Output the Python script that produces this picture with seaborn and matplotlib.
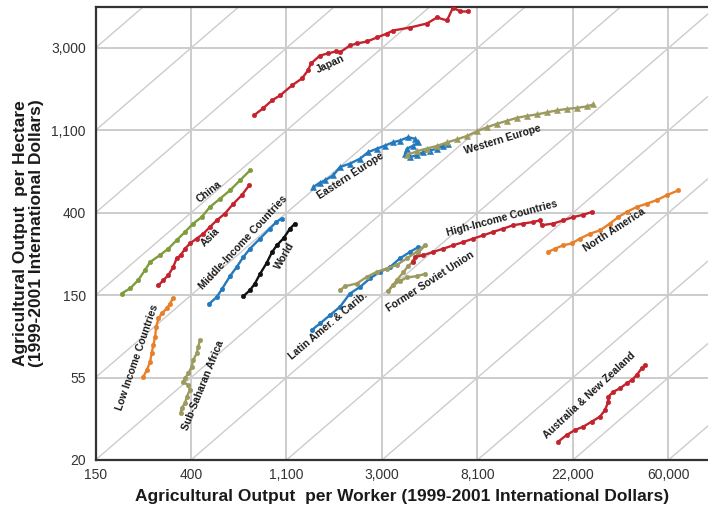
import numpy as np
import pandas as pd
import matplotlib
matplotlib.use("Agg")
import matplotlib.pyplot as plt
import seaborn as sns

# Agricultural output per worker (x) and per hectare (y), 1999-2001 international dollars
japan_x = [780, 857, 942, 1025, 1162, 1290, 1373, 1417, 1558, 1693, 1841, 1920, 2132, 2294, 2548,
           2829, 3140, 3345, 3998, 4774, 5303, 5889, 6272, 6753, 7341]
japan_y = [1316, 1432, 1578, 1676, 1893, 2061, 2271, 2470, 2721, 2791, 2859, 2826, 3075, 3149, 3226,
           3387, 3553, 3684, 3822, 4013, 4317, 4164, 4871, 4643, 4643]

china_x = [195, 213, 232, 249, 263, 291, 318, 347, 379, 413, 451, 492, 547, 607, 674, 748]
china_y = [151.5, 161, 178, 201, 222, 241, 261, 289, 320, 354, 383, 433, 479, 530, 598, 675]

asia_x = [287, 302, 318, 335, 347, 362, 379, 399, 428, 459, 492, 528, 576, 629, 686, 742]
asia_y = [167.5, 178, 189, 209, 232, 241, 261, 278, 295, 313, 340, 368, 400, 451, 499, 563]

middle_x = [489, 528, 558, 607, 651, 698, 748, 831, 921, 987, 1041]
middle_y = [134, 145, 160, 187, 209, 236, 261, 295, 333, 361, 376]

world_x = [698, 748, 788, 831, 890, 942, 991, 1063, 1138, 1199]
world_y = [146.6, 157.8, 171, 192, 219, 250, 272, 296, 333, 354]

low_x = [245, 254, 263, 267, 272, 277, 280, 287, 297, 313, 324, 333]
low_y = [55.2, 59.8, 66.1, 73.2, 80.9, 89.4, 100.9, 111.9, 118.9, 126.6, 134, 142.6]

ssa_x = [443, 435, 428, 413, 406, 392, 379, 372, 392, 399, 386, 379, 366, 362]
ssa_y = [85.9, 79.3, 73.2, 67.5, 62.2, 57.4, 54.1, 51.9, 49.8, 47.0, 43.3, 40.0, 37.7, 35.5]

east_eu_x = [1452, 1558, 1641, 1790, 1920, 2132, 2369, 2580, 2821, 3075, 3350, 3598, 3926, 4215,
             4359, 4141, 3863, 3795, 3998, 4287, 4592, 4930, 5289, 5667, 5967]
east_eu_y = [552, 582, 598, 636, 703, 733, 778, 843, 877, 912, 950, 970, 1010, 990,
             950, 912, 877, 827, 794, 810, 843, 859, 877, 912, 932]

west_eu_x = [3863, 4287, 4759, 5289, 5873, 6517, 7236, 8038, 8921, 9908, 11004, 12211, 13562,
             15059, 16727, 18557, 20617, 22902, 25418, 27247]
west_eu_y = [810, 851, 880, 907, 947, 982, 1024, 1083, 1138, 1187, 1230, 1276, 1307,
             1331, 1363, 1397, 1423, 1441, 1467, 1502]

latam_x = [1427, 1558, 1729, 1920, 2132, 2369, 2629, 2919, 3243, 3598, 3998, 4359]
latam_y = [97.1, 105.3, 116.5, 128.9, 151.5, 164, 182, 197, 209, 232, 251, 266]

fsu_x = [1920, 2025, 2289, 2540, 2821, 3130, 3479, 3863, 4287, 4675, 4346, 4141, 3914, 3726,
         3479, 3184, 3345, 3598, 3863, 4287, 4675]
fsu_y = [157.8, 165.5, 171, 185, 197, 205, 214, 232, 251, 272, 247, 224, 211, 196,
         178, 155.8, 167.5, 176, 184, 187, 192]

high_x = [4141, 4215, 4592, 5100, 5667, 6296, 6987, 7754, 8614, 9555, 10615, 11790, 13095,
          14536, 15590, 15875, 17918, 19890, 22092, 24537, 26800]
high_y = [222, 236, 241, 251, 261, 272, 283, 295, 307, 320, 333, 347, 354,
          361, 368, 347, 354, 368, 383, 394, 407]

north_am_x = [17007, 18250, 19890, 21720, 23700, 26321, 29229, 32444, 35384, 38640, 42926,
              47683, 52879, 58743, 66400]
north_am_y = [251, 261, 272, 278, 295, 313, 326, 354, 383, 407, 433, 451, 470, 499, 530]

anz_x = [18873, 20617, 22490, 24537, 26800, 29229, 30787, 31891, 31891, 33596, 36026, 38640,
         40753, 42926, 45216, 46853]
anz_y = [25.1, 27.2, 28.9, 30.1, 32.0, 34.0, 36.8, 40.7, 43.3, 46.0, 47.9, 50.9,
         53.0, 56.3, 61.1, 63.6]

x_tick_labels = ["150", "400", "1,100", "3,000", "8,100", "22,000", "60,000"]
y_tick_labels = ["20", "55", "150", "400", "1,100", "3,000"]

RED = "#c4232e"
GREEN = "#7f9c3c"
BLUE = "#2379be"
ORANGE = "#e8802a"
KHAKI = "#9d9a5f"

series = [
    ("Japan", japan_x, japan_y, RED, "o"),
    ("China", china_x, china_y, GREEN, "o"),
    ("Asia", asia_x, asia_y, RED, "o"),
    ("Middle-Income Countries", middle_x, middle_y, BLUE, "o"),
    ("World", world_x, world_y, "#111111", "o"),
    ("Low Income Countries", low_x, low_y, ORANGE, "o"),
    ("Sub-Saharan Africa", ssa_x, ssa_y, KHAKI, "o"),
    ("Eastern Europe", east_eu_x, east_eu_y, BLUE, "^"),
    ("Western Europe", west_eu_x, west_eu_y, KHAKI, "^"),
    ("Latin Amer. & Carib.", latam_x, latam_y, BLUE, "o"),
    ("Former Soviet Union", fsu_x, fsu_y, KHAKI, "o"),
    ("High-Income Countries", high_x, high_y, RED, "o"),
    ("North America", north_am_x, north_am_y, ORANGE, "o"),
    ("Australia & New Zealand", anz_x, anz_y, RED, "o"),
]

# label placement (axes fraction) and text angle
labels = {
    "Japan": (0.383, 0.874, 25),
    "China": (0.185, 0.593, 38),
    "Asia": (0.187, 0.492, 45),
    "Middle-Income Countries": (0.241, 0.479, 47),
    "World": (0.309, 0.450, 60),
    "Low Income Countries": (0.068, 0.227, 71),
    "Sub-Saharan Africa": (0.176, 0.165, 68),
    "Eastern Europe": (0.417, 0.627, 33),
    "Western Europe": (0.664, 0.708, 17),
    "Latin Amer. & Carib.": (0.380, 0.296, 40),
    "Former Soviet Union": (0.546, 0.393, 33),
    "High-Income Countries": (0.664, 0.534, 15),
    "North America": (0.847, 0.507, 33),
    "Australia & New Zealand": (0.807, 0.143, 43),
}

sns.set_style("white")
plt.rcParams["font.family"] = ["Liberation Sans", "DejaVu Sans"]

fig = plt.figure(figsize=(7.08, 5.15), dpi=100)
ax = fig.add_axes([0.1349, 0.1068, 0.8651, 0.880])
ax.set_xscale("log")
ax.set_yscale("log")

x_lo, x_hi = np.exp(5.0), np.exp(11.414)
y_lo, y_hi = np.exp(3.0), np.exp(8.5)

grid_c = "#cccccc"
# constant land-per-worker guide lines (slope 1 on log-log)
for k in range(-9, 5):
    ax.axline((np.exp(5.0), np.exp(5.0 + k)), (np.exp(6.0), np.exp(6.0 + k)),
              color=grid_c, lw=1.0, zorder=0)
for e in range(6, 12):
    ax.axvline(np.exp(e), color=grid_c, lw=1.4, zorder=0)
for e in range(4, 9):
    ax.axhline(np.exp(e), color=grid_c, lw=1.4, zorder=0)

for name, xs, ys, col, mk in series:
    df = pd.DataFrame({"x": xs, "y": ys})
    ms = 3.8 if mk == "^" else 3.2
    sns.lineplot(data=df, x="x", y="y", sort=False, estimator=None, ax=ax,
                 color=col, lw=1.7, marker=mk, markersize=ms, markeredgewidth=0.4,
                 markeredgecolor=col, zorder=3)
    fx, fy, rot = labels[name]
    ax.text(fx, fy, name, transform=ax.transAxes, rotation=rot, rotation_mode="anchor",
            ha="center", va="center", fontsize=7.5, fontweight="bold", color="#1a1a1a", zorder=5)

ax.set_xlim(x_lo, x_hi)
ax.set_ylim(y_lo, y_hi)
ax.set_xticks([np.exp(e) for e in range(5, 12)])
ax.set_xticklabels(x_tick_labels)
ax.set_yticks([np.exp(e) for e in range(3, 9)])
ax.set_yticklabels(y_tick_labels)
ax.minorticks_off()
ax.tick_params(axis="both", labelsize=10, colors="#333333", length=4, width=0.8, direction="out",
               pad=3)
ax.tick_params(axis="x", length=0, pad=6)

for side in ["left", "bottom", "top"]:
    ax.spines[side].set_color("#333333")
    ax.spines[side].set_linewidth(1.6)
ax.spines["right"].set_visible(False)

ax.set_xlabel("Agricultural Output  per Worker (1999-2001 International Dollars)",
              fontsize=12.5, fontweight="bold", color="#1a1a1a", labelpad=5)
ax.set_ylabel("Agricultural Output  per Hectare\n(1999-2001 International Dollars)",
              fontsize=12.5, fontweight="bold", color="#1a1a1a", labelpad=5, linespacing=1.05)

fig.savefig("out.png", dpi=100)
